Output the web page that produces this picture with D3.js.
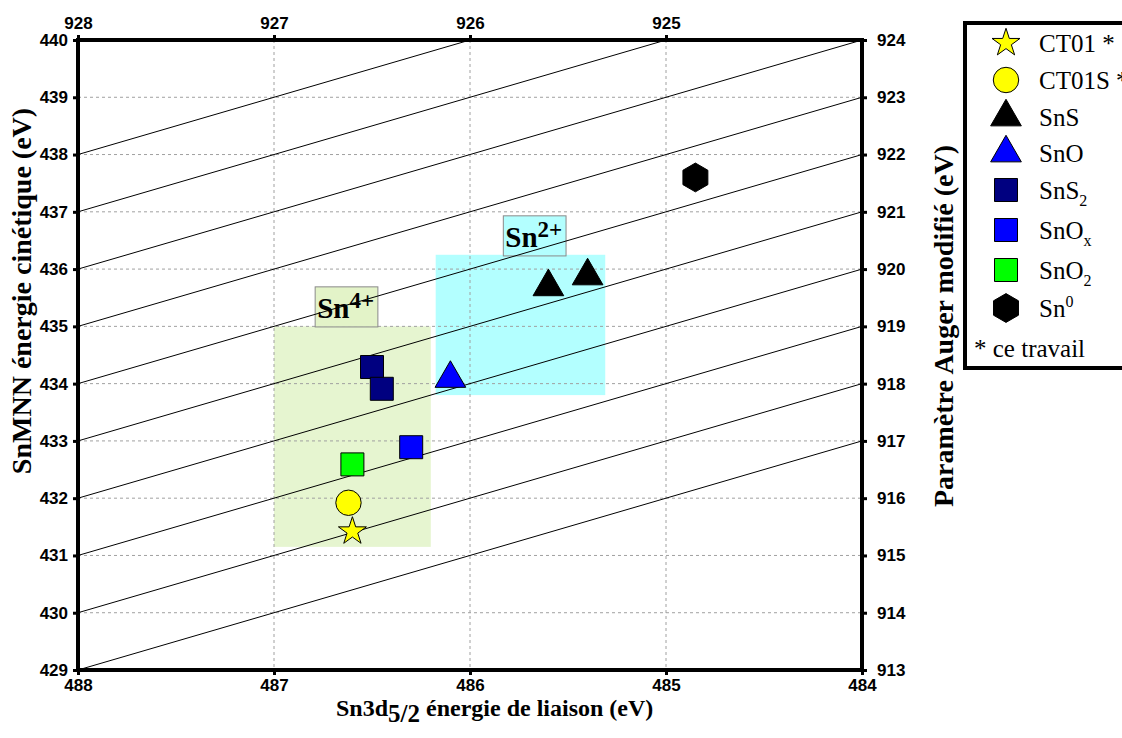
<!DOCTYPE html>
<html><head><meta charset="utf-8">
<script src="https://cdn.jsdelivr.net/npm/d3@7"></script>
<style>body{margin:0;background:#fff}svg{display:block}</style>
</head><body>
<svg id="chart" width="1122" height="738"></svg>
<script>
// ---- data ----
const bindingTicks = [488, 487, 486, 485, 484];
const kineticTicks = [429, 430, 431, 432, 433, 434, 435, 436, 437, 438, 439, 440];
const topAugerTicks = [928, 927, 926, 925];
const rightAugerTicks = [913, 914, 915, 916, 917, 918, 919, 920, 921, 922, 923, 924];
const augerLines = [917, 918, 919, 920, 921, 922, 923, 924, 925, 926];

const seriesNames = ["CT01 *", "CT01S *", "SnS", "SnO", "SnS2", "SnOx", "SnO2", "Sn0"];
const ct01 = [[486.60, 431.42]];
const ct01s = [[486.62, 431.92]];
const sns = [[485.60, 435.69], [485.40, 435.88]];
const sno = [[486.10, 434.09]];
const sns2 = [[486.50, 434.29], [486.45, 433.91]];
const snox = [[486.30, 432.89]];
const sno2 = [[486.60, 432.59]];
const sn0 = [[484.85, 437.60]];

// regions: [BE left, BE right, KE bottom, KE top]
const sn4Region = [487.00, 486.20, 431.15, 435.00];
const sn2Region = [486.175, 485.31, 433.80, 436.25];
// label boxes: [BE left, BE right, KE bottom, KE top]
const sn4Label = [486.79, 486.47, 434.99, 435.69];
const sn2Label = [485.83, 485.51, 436.23, 436.93];

// ---- layout ----
const svg = d3.select("#chart");
const L = 78, R = 862, T = 40, B = 670;
const x = d3.scaleLinear().domain([488, 484]).range([L, R]);
const y = d3.scaleLinear().domain([429, 440]).range([B, T]);
const xTop = d3.scaleLinear().domain([928, 924]).range([L, R]);
const yRight = d3.scaleLinear().domain([913, 924]).range([B, T]);

const serif = "'Liberation Serif','Times New Roman','DejaVu Serif',serif";
const sans = "'Liberation Sans',Arial,sans-serif";

svg.append("defs").append("clipPath").attr("id", "plotclip")
  .append("rect").attr("x", L).attr("y", T).attr("width", R - L).attr("height", B - T);

// regions
function regionRect(r, fill, stroke) {
  return svg.append("rect")
    .attr("x", x(r[0])).attr("y", y(r[3]))
    .attr("width", x(r[1]) - x(r[0])).attr("height", y(r[2]) - y(r[3]))
    .attr("fill", fill).attr("stroke", stroke || "none");
}
regionRect(sn4Region, "#e6f5d0");
regionRect(sn2Region, "#b3ffff");

// grid
const grid = svg.append("g").attr("stroke", "#a0a0a0").attr("stroke-width", 1).attr("stroke-dasharray", "3,3");
grid.selectAll("line.v").data(bindingTicks.slice(1, -1)).join("line")
  .attr("x1", d => x(d)).attr("x2", d => x(d)).attr("y1", T).attr("y2", B);
grid.selectAll("line.h").data(kineticTicks.slice(1, -1)).join("line")
  .attr("x1", L).attr("x2", R).attr("y1", d => y(d)).attr("y2", d => y(d));

// label boxes
function labelBox(r, fill, sup) {
  regionRect(r, fill, "#8a8a8a").attr("stroke-width", 1);
  const t = svg.append("text").attr("x", x(r[0]) + 2).attr("y", y(r[2]) - 9)
    .attr("font-family", serif).attr("font-weight", "bold").attr("font-size", 29).attr("fill", "#000");
  t.append("tspan").text("Sn");
  t.append("tspan").attr("dy", -10).attr("font-size", 23).text(sup);
}
labelBox(sn4Label, "#e3f3c8", "4+");
labelBox(sn2Label, "#b3ffff", "2+");

// diagonal constant Auger parameter lines
svg.append("g").attr("clip-path", "url(#plotclip)")
  .selectAll("line").data(augerLines).join("line")
  .attr("x1", x(488)).attr("y1", d => y(d - 488))
  .attr("x2", x(484)).attr("y2", d => y(d - 484))
  .attr("stroke", "#000").attr("stroke-width", 1);

// frame
svg.append("rect").attr("x", L).attr("y", T).attr("width", R - L).attr("height", B - T)
  .attr("fill", "none").attr("stroke", "#000").attr("stroke-width", 4);

// axes
function styleAxis(g) {
  g.select(".domain").remove();
  g.selectAll(".tick line").attr("stroke", "#000").attr("stroke-width", 3);
  g.selectAll(".tick text").attr("font-family", sans).attr("font-weight", "bold")
    .attr("font-size", 17).attr("fill", "#000");
}
svg.append("g").attr("transform", `translate(0,${B})`)
  .call(d3.axisBottom(x).tickValues(bindingTicks).tickFormat(d3.format("d")).tickSize(5).tickPadding(4))
  .call(styleAxis);
svg.append("g").attr("transform", `translate(${L},0)`)
  .call(d3.axisLeft(y).tickValues(kineticTicks).tickFormat(d3.format("d")).tickSize(5).tickPadding(5))
  .call(styleAxis);
svg.append("g").attr("transform", `translate(0,${T})`)
  .call(d3.axisTop(xTop).tickValues(topAugerTicks).tickFormat(d3.format("d")).tickSize(5).tickPadding(6))
  .call(styleAxis);
svg.append("g").attr("transform", `translate(${R},0)`)
  .call(d3.axisRight(yRight).tickValues(rightAugerTicks).tickFormat(d3.format("d")).tickSize(5).tickPadding(10))
  .call(styleAxis);

// axis titles
const bt = svg.append("text").attr("x", 336).attr("y", 716)
  .attr("font-family", serif).attr("font-weight", "bold").attr("font-size", 24).attr("fill", "#000");
bt.append("tspan").text("Sn3d");
bt.append("tspan").attr("dy", 6).attr("font-size", 25).text("5/2");
bt.append("tspan").attr("dy", -6).text(" énergie de liaison (eV)");

svg.append("text").attr("transform", "translate(31,291) rotate(-90)").attr("text-anchor", "middle")
  .attr("font-family", serif).attr("font-weight", "bold").attr("font-size", 28).attr("fill", "#000")
  .text("SnMNN énergie cinétique (eV)");
svg.append("text").attr("transform", "translate(953,326) rotate(-90)").attr("text-anchor", "middle")
  .attr("font-family", serif).attr("font-weight", "bold").attr("font-size", 28).attr("fill", "#000")
  .text("Paramètre Auger modifié (eV)");

// markers
const hexPath = (() => {
  const Rh = 14.4;
  const pts = d3.range(6).map(i => {
    const a = -Math.PI / 2 + i * Math.PI / 3;
    return [Rh * Math.cos(a), Rh * Math.sin(a)];
  });
  return d3.line()(pts) + "Z";
})();
const styles = {
  "CT01 *": { path: d3.symbol(d3.symbolStar, 243)(), fill: "#ffff00" },
  "CT01S *": { path: d3.symbol(d3.symbolCircle, 507)(), fill: "#ffff00" },
  "SnS": { path: d3.symbol(d3.symbolTriangle, 408)(), fill: "#000000" },
  "SnO": { path: d3.symbol(d3.symbolTriangle, 408)(), fill: "#0000ff" },
  "SnS2": { path: d3.symbol(d3.symbolSquare, 529)(), fill: "#000080" },
  "SnOx": { path: d3.symbol(d3.symbolSquare, 529)(), fill: "#0000ff" },
  "SnO2": { path: d3.symbol(d3.symbolSquare, 529)(), fill: "#00ff00" },
  "Sn0": { path: hexPath, fill: "#000000" }
};
const seriesData = [ct01s, ct01, sns, sno, sns2, snox, sno2, sn0];
const seriesOrder = ["CT01S *", "CT01 *", "SnS", "SnO", "SnS2", "SnOx", "SnO2", "Sn0"];
seriesOrder.forEach((name, i) => {
  svg.append("g").selectAll("path").data(seriesData[i]).join("path")
    .attr("transform", d => `translate(${x(d[0])},${y(d[1])})`)
    .attr("d", styles[name].path).attr("fill", styles[name].fill)
    .attr("stroke", "#000").attr("stroke-width", 1);
});

// legend
const lg = svg.append("g");
lg.append("rect").attr("x", 965).attr("y", 23).attr("width", 200).attr("height", 345)
  .attr("fill", "#fff").attr("stroke", "#000").attr("stroke-width", 4);
const legendRows = [43, 80, 117, 153, 190, 230, 270, 308];
const legendLabels = [
  [["CT01 *", 0]], [["CT01S *", 0]], [["SnS", 0]], [["SnO", 0]],
  [["SnS", 0], ["2", 1]], [["SnO", 0], ["x", 1]], [["SnO", 0], ["2", 1]], [["Sn", 0], ["0", -1]]
];
seriesNames.forEach((name, i) => {
  const cy = legendRows[i];
  lg.append("path").attr("transform", `translate(1006,${cy})`)
    .attr("d", styles[name].path).attr("fill", styles[name].fill)
    .attr("stroke", "#000").attr("stroke-width", 1);
  const t = lg.append("text").attr("x", 1039).attr("y", cy + 9)
    .attr("font-family", serif).attr("font-size", 25).attr("fill", "#000");
  let prev = 0;
  legendLabels[i].forEach(([s, k]) => {
    const dy = k === 1 ? 7 : (k === -1 ? -10 : 0);
    t.append("tspan").attr("dy", dy - prev).attr("font-size", k === 0 ? 25 : 16).text(s);
    prev = dy;
  });
});
lg.append("text").attr("x", 974).attr("y", 357).attr("font-family", serif).attr("font-size", 25)
  .attr("fill", "#000").text("* ce travail");
</script>
</body></html>
